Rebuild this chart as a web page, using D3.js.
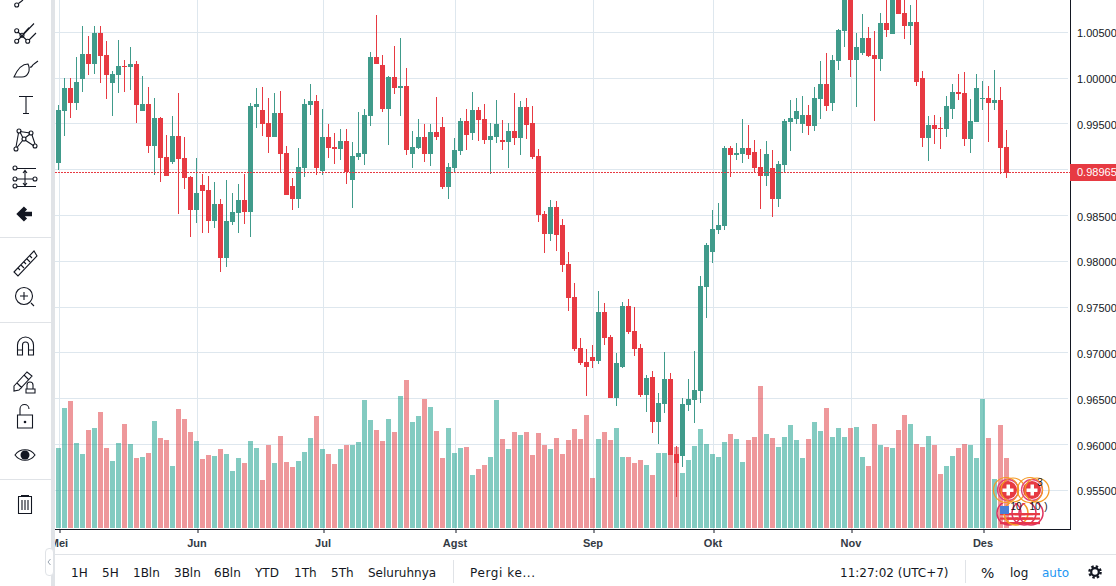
<!DOCTYPE html>
<html>
<head>
<meta charset="utf-8">
<style>
  html, body { margin: 0; padding: 0; background: #fff; overflow: hidden; }
  svg { display: block; }
  text { font-family: "Liberation Sans", Arial, sans-serif; }
</style>
<script src="https://cdn.jsdelivr.net/npm/d3@7"></script>
</head>
<body>
<div id="chart"></div>
<script>
// daily USD/CHF style candles
const opens = [
  0.99078,0.99645,0.99896,0.99733,0.99995,1.00267,1.00158,1.00497,1.00257,0.99951,
  1.00038,1.00136,1.00126,1.00158,0.99645,0.99722,0.99263,0.99569,0.99143,0.99088,
  0.99372,0.99132,0.98925,0.98565,0.98837,0.98783,0.98444,0.98630,0.98040,0.98433,
  0.98532,0.98674,0.98543,0.99689,0.99656,0.99514,0.99361,0.99623,0.99187,0.98826,
  0.98685,0.99023,0.99711,0.99754,0.98990,0.99361,0.99252,0.99230,0.99318,0.98892,
  0.99143,0.99176,0.99591,1.00235,1.00147,0.99667,1.00016,0.99896,0.99918,0.99176,
  0.99241,0.99361,0.99176,0.99416,0.99471,0.98816,0.99023,0.99209,0.99536,0.99405,
  0.99656,0.99558,0.99329,0.99361,0.99329,0.99307,0.99427,0.99350,0.99689,0.99514,
  0.99154,0.98521,0.98302,0.98597,0.98401,0.97975,0.97615,0.97058,0.96905,0.96960,
  0.96916,0.97451,0.97178,0.96512,0.96851,0.97516,0.97244,0.97058,0.96545,0.96741,
  0.96250,0.96447,0.96719,0.95901,0.95879,0.96436,0.96490,0.96588,0.97724,0.98106,
  0.98346,0.98390,0.99241,0.99165,0.99176,0.99241,0.99198,0.99034,0.98936,0.99023,
  0.98685,0.99056,0.99525,0.99558,0.99503,0.99602,0.99481,0.99776,0.99940,0.99733,
  1.00191,1.00519,1.00912,1.00202,1.00278,1.00442,1.00257,1.00213,1.00606,1.00486,
  1.00890,1.00715,1.00573,1.00617,1.00005,0.99350,0.99492,0.99460,0.99449,0.99667,
  0.99853,0.99842,0.99340,0.99525,0.99776,0.99787,0.99733,0.99765,0.99252
];
const highs = [
  0.99711,1.00005,1.00005,1.00235,1.00573,1.00464,1.00573,1.00573,1.00409,1.00082,
  1.00420,1.00202,1.00344,1.00191,1.00027,0.99907,0.99787,0.99580,0.99383,0.99591,
  0.99842,0.99361,0.98936,0.99132,0.98957,0.98936,0.98870,0.98685,0.98892,0.98750,
  0.98848,0.98957,0.99733,0.99896,0.99907,0.99787,0.99842,0.99864,0.99263,0.98914,
  0.99241,0.99776,0.99940,0.99820,0.99667,0.99503,0.99405,0.99449,0.99449,0.99307,
  0.99634,0.99667,1.00289,1.00693,1.00257,1.00027,1.00355,1.00442,1.00115,0.99427,
  0.99558,0.99503,0.99503,0.99798,0.99580,0.99078,0.99350,0.99569,0.99667,0.99853,
  0.99689,0.99722,0.99514,0.99765,0.99547,0.99514,0.99842,0.99754,0.99787,0.99700,
  0.99230,0.98554,0.98674,0.98663,0.98466,0.98106,0.97767,0.97167,0.97047,0.97091,
  0.97680,0.97549,0.97200,0.97003,0.97560,0.97593,0.97505,0.97102,0.96763,0.96807,
  0.96567,0.97014,0.96785,0.95988,0.96512,0.96719,0.97025,0.97844,0.98204,0.98565,
  0.98641,0.99263,0.99263,0.99296,0.99558,0.99492,0.99329,0.99230,0.99318,0.99219,
  0.99099,0.99558,0.99765,0.99787,0.99809,0.99711,0.99907,1.00191,1.00278,1.00257,
  1.00540,1.01075,1.01000,1.00497,1.00704,1.00562,1.00519,1.00715,1.00890,1.01000,
  1.00966,1.00933,1.00802,1.00890,1.00082,0.99591,0.99602,0.99580,0.99809,0.99940,
  1.00049,1.00071,0.99776,1.00049,0.99973,0.99918,1.00093,0.99907,0.99438
];
const lows = [
  0.99001,0.99372,0.99569,0.99656,0.99853,1.00038,1.00049,0.99951,0.99776,0.99591,
  0.99842,0.99853,0.99875,0.99514,0.99645,0.99187,0.98947,0.98870,0.98936,0.99067,
  0.98521,0.98794,0.98270,0.98423,0.98313,0.98313,0.98368,0.97888,0.97942,0.98401,
  0.98313,0.98412,0.98270,0.99460,0.99372,0.99187,0.99361,0.98968,0.98728,0.98565,
  0.98586,0.98925,0.99602,0.98947,0.98947,0.99132,0.99067,0.99110,0.98848,0.98586,
  0.99110,0.99056,0.99481,1.00158,0.99634,0.99274,0.99831,0.99591,0.99165,0.99023,
  0.99230,0.99088,0.99045,0.99329,0.98794,0.98685,0.98979,0.99165,0.99219,0.99329,
  0.99318,0.99285,0.98957,0.99296,0.99219,0.99023,0.99274,0.99165,0.99340,0.99121,
  0.98433,0.98095,0.98226,0.98117,0.97888,0.97462,0.97025,0.96872,0.96534,0.96840,
  0.96883,0.97091,0.96512,0.96425,0.96840,0.97211,0.96970,0.96523,0.96359,0.96130,
  0.96010,0.96348,0.95890,0.95431,0.95759,0.96370,0.96239,0.96457,0.97385,0.97986,
  0.98302,0.98346,0.98925,0.99110,0.99078,0.99121,0.98968,0.98575,0.98826,0.98488,
  0.98597,0.98979,0.99209,0.99503,0.99405,0.99383,0.99427,0.99558,0.99645,0.99645,
  1.00093,1.00344,1.00016,0.99689,1.00257,1.00235,0.99536,1.00082,1.00453,1.00486,
  1.00704,1.00431,1.00366,0.99918,0.99252,0.99099,0.99285,0.99230,0.99361,0.99558,
  0.99765,0.99263,0.99187,0.99525,0.99656,0.99307,0.99656,0.98957,0.98914
];
const closes = [
  0.99656,0.99896,0.99733,0.99962,1.00267,1.00158,1.00497,1.00246,1.00038,1.00049,
  1.00136,1.00126,1.00158,0.99711,0.99722,0.99263,0.99569,0.99132,0.98936,0.99372,
  0.99121,0.98914,0.98565,0.98750,0.98772,0.98444,0.98630,0.98040,0.98444,0.98543,
  0.98674,0.98543,0.99700,0.99722,0.99503,0.99361,0.99623,0.99176,0.98728,0.98685,
  0.99034,0.99722,0.99754,0.99023,0.99361,0.99241,0.99230,0.99318,0.98979,0.99154,
  0.99187,0.99602,1.00235,1.00158,0.99667,1.00016,0.99896,0.99918,0.99219,0.99252,
  0.99361,0.99176,0.99416,0.99361,0.98816,0.99034,0.99219,0.99536,0.99383,0.99656,
  0.99547,0.99329,0.99372,0.99503,0.99307,0.99427,0.99350,0.99689,0.99492,0.99143,
  0.98510,0.98302,0.98597,0.98292,0.97964,0.97604,0.97047,0.96894,0.96851,0.96916,
  0.97451,0.97167,0.96512,0.96894,0.97516,0.97233,0.97047,0.96545,0.96730,0.96250,
  0.96457,0.96719,0.95890,0.95802,0.96447,0.96501,0.96599,0.97735,0.98182,0.98357,
  0.98401,0.99241,0.99165,0.99187,0.99241,0.99165,0.99023,0.98936,0.99176,0.98685,
  0.99067,0.99536,0.99569,0.99645,0.99602,0.99481,0.99787,0.99940,0.99700,1.00202,
  1.00529,1.00966,1.00202,1.00344,1.00442,1.00246,1.00213,1.00606,1.00529,1.00933,
  1.00704,1.00573,1.00617,0.99962,0.99350,0.99492,0.99449,0.99449,0.99700,0.99853,
  0.99831,0.99340,0.99536,0.99896,0.99787,0.99733,0.99765,0.99241,0.98965
];
const volumes = [
  240,360,381,255,222,294,300,348,240,201,255,312,252,210,213,225,321,270,264,186,
  357,327,288,261,207,219,216,237,222,171,210,195,261,240,144,249,195,276,198,183,
  201,228,270,336,237,222,192,237,249,249,258,384,324,294,261,327,288,396,444,318,
  336,387,363,291,210,300,225,240,243,159,177,189,213,384,267,237,288,279,288,219,
  285,249,237,270,222,264,297,267,339,150,267,288,264,300,213,213,195,204,189,159,
  225,225,219,243,165,204,246,297,252,222,213,258,282,267,198,264,273,426,282,270,
  243,273,309,264,210,267,318,291,360,273,300,273,300,303,213,186,312,249,243,240,
  294,339,312,252,243,276,249,162,186,216,240,252,249,210,387,270,147,309,210
];
const priceTicks = [1.005,1,0.995,0.99,0.985,0.98,0.975,0.97,0.965,0.96,0.955];
const monthIndex = [0,23,44,66,89,109,132,154];
const monthLabels = ["Mei","Jun","Jul","Agst","Sep","Okt","Nov","Des"];
const lastPrice = 0.98965;
const rangeButtons = ["1H","5H","1Bln","3Bln","6Bln","YTD","1Th","5Th","Seluruhnya"];
const rangeButtonX = [71,102,133,174,214,255,294,331,368];

const width = 1116, height = 586;
const green = "#409b8b", red = "#e73a42", ink = "#131722", gridColor = "#deE7ee", panelLine = "#e0e3e7";

const svg = d3.select("#chart").append("svg")
  .attr("width", width)
  .attr("height", height);

// Scales
const x = d3.scaleLinear().domain([0, opens.length - 1]).range([58.5, 1006.5]);
const y = d3.scaleLinear().domain([1, 0.955]).range([78.1, 490.3]);
const yVol = d3.scaleLinear().domain([0, 444]).range([528, 380]);

const candles = opens.map((o, i) => ({ i, o, h: highs[i], l: lows[i], c: closes[i], v: volumes[i], up: closes[i] >= o }));

// Grid
svg.append("g").selectAll("line")
  .data(priceTicks)
  .join("line")
  .attr("x1", 55).attr("x2", 1068)
  .attr("y1", d => Math.floor(y(d)) + 0.5)
  .attr("y2", d => Math.floor(y(d)) + 0.5)
  .attr("stroke", gridColor);

svg.append("g").selectAll("line")
  .data(monthIndex)
  .join("line")
  .attr("x1", d => x(d) + 1).attr("x2", d => x(d) + 1)
  .attr("y1", 0).attr("y2", 529)
  .attr("stroke", gridColor);

// Volume
svg.append("g").selectAll("rect")
  .data(candles)
  .join("rect")
  .attr("x", d => x(d.i) - 2.5)
  .attr("width", 5)
  .attr("y", d => Math.round(yVol(d.v)))
  .attr("height", d => 528 - Math.round(yVol(d.v)))
  .attr("fill", d => d.up ? "#1ea08e" : "#de3a3f")
  .attr("fill-opacity", d => d.up ? 0.55 : 0.52);

// Candles
const candle = svg.append("g").selectAll("g")
  .data(candles)
  .join("g")
  .attr("fill", d => d.up ? green : red);

candle.append("rect")
  .attr("x", d => x(d.i) - 0.5)
  .attr("width", 1)
  .attr("y", d => Math.round(y(d.h)))
  .attr("height", d => Math.max(1, Math.round(y(d.l)) - Math.round(y(d.h))));

candle.append("rect")
  .attr("x", d => x(d.i) - 2.5)
  .attr("width", 5)
  .attr("y", d => Math.round(y(Math.max(d.o, d.c))))
  .attr("height", d => Math.max(1, Math.round(y(Math.min(d.o, d.c))) - Math.round(y(Math.max(d.o, d.c)))));

// Current price line
const lastY = Math.floor(y(lastPrice)) + 0.5;
svg.append("line")
  .attr("x1", 55).attr("x2", 1070)
  .attr("y1", lastY).attr("y2", lastY)
  .attr("stroke", red)
  .attr("stroke-dasharray", "2,1");

// Event flags near the last bars
const defs = svg.append("defs");
defs.append("clipPath").attr("id", "flagClip2").append("rect").attr("x", 995).attr("y", 503).attr("width", 60).attr("height", 26);

const flags = svg.append("g");
[[1008, 490], [1032, 490]].forEach(p => {
  flags.append("circle").attr("cx", p[0]).attr("cy", p[1]).attr("r", 9).attr("fill", red);
  flags.append("rect").attr("x", p[0] - 5.5).attr("y", p[1] - 1.5).attr("width", 11).attr("height", 3.5).attr("fill", "#fff");
  flags.append("rect").attr("x", p[0] - 1.5).attr("y", p[1] - 5.5).attr("width", 3.5).attr("height", 11).attr("fill", "#fff");
  flags.append("circle").attr("cx", p[0]).attr("cy", p[1]).attr("r", 10.5).attr("fill", "none").attr("stroke", "#e0457a").attr("stroke-width", 1.3);
  flags.append("circle").attr("cx", p[0] + 5).attr("cy", p[1]).attr("r", 12).attr("fill", "none").attr("stroke", "#f59a23").attr("stroke-width", 1.2);
  flags.append("circle").attr("cx", p[0] - 2).attr("cy", p[1]).attr("r", 12.5).attr("fill", "none").attr("stroke", "#f59a23").attr("stroke-width", 1.2);
});
flags.append("text").attr("x", 1040).attr("y", 486).attr("text-anchor", "middle").attr("font-size", 10).attr("fill", ink).text("3");

const flagRows = flags.append("g").attr("clip-path", "url(#flagClip2)");
[1009, 1016, 1024, 1031].forEach((cx, n) => {
  d3.range(3).forEach(k => {
    flagRows.append("rect").attr("x", cx - 9).attr("y", 513 + k * 4.5).attr("width", 18).attr("height", 2.2).attr("fill", red);
  });
  flagRows.append("circle").attr("cx", cx).attr("cy", 513).attr("r", 12).attr("fill", "none").attr("stroke", n == 1 ? "#f59a23" : "#e0315e").attr("stroke-width", 1.5);
});
flags.append("rect").attr("x", 1000).attr("y", 506).attr("width", 9).attr("height", 8).attr("fill", "#4a7fd6");
flags.append("text").attr("x", 1016).attr("y", 510).attr("text-anchor", "middle").attr("font-size", 10).attr("fill", ink).text("10");
flags.append("text").attr("x", 1035).attr("y", 510).attr("text-anchor", "middle").attr("font-size", 10).attr("fill", ink).text("10");
flags.append("text").attr("x", 1046).attr("y", 510).attr("text-anchor", "middle").attr("font-size", 10).attr("fill", ink).text(")");

// Axes, the 0.99000 label sits under the last price tag so it is left out
const yAxis = d3.axisRight(y).tickValues(priceTicks)
  .tickFormat(d => d === 0.99 ? "" : d3.format(".5f")(d))
  .tickSize(0).tickPadding(6);
const gy = svg.append("g").attr("transform", "translate(1071,1)").call(yAxis);
gy.select(".domain").remove();
gy.selectAll("text").attr("font-size", 11).attr("fill", ink).style("font-family", '"Liberation Sans", Arial, sans-serif');

const xAxis = d3.axisBottom(d3.scaleLinear().domain(x.domain()).range([59.5, 1007.5]))
  .tickValues(monthIndex)
  .tickFormat((d, n) => monthLabels[n])
  .tickSize(4)
  .tickPadding(6);
const gx = svg.append("g").attr("transform", "translate(0,529)").call(xAxis);
gx.select(".domain").remove();
gx.selectAll("line").attr("stroke", ink);
gx.selectAll("text")
  .attr("dx", -1)
  .attr("font-size", 11).attr("font-weight", "bold").attr("fill", "#333a44")
  .style("font-family", '"Liberation Sans", Arial, sans-serif');

svg.append("line").attr("x1", 55).attr("x2", 1071).attr("y1", 529.5).attr("y2", 529.5).attr("stroke", ink);
svg.append("line").attr("x1", 1070.5).attr("x2", 1070.5).attr("y1", 0).attr("y2", 530).attr("stroke", ink);

// Last price tag
svg.append("rect").attr("x", 1070).attr("y", 164).attr("width", 46).attr("height", 17).attr("fill", red);
svg.append("text")
  .attr("x", 1077).attr("y", lastY + 3.8)
  .attr("font-size", 11).attr("fill", "#fff")
  .text(d3.format(".5f")(lastPrice));

// Bottom bar
svg.append("rect").attr("x", 51).attr("y", 554).attr("width", 1065).attr("height", 32).attr("fill", "#fff");
svg.append("line").attr("x1", 51).attr("x2", 1116).attr("y1", 554.5).attr("y2", 554.5).attr("stroke", panelLine);

const barFont = '"DejaVu Sans", sans-serif';
const bar = svg.append("g").attr("font-size", 12).attr("fill", ink).style("font-family", barFont);
bar.selectAll("text.range")
  .data(rangeButtons)
  .join("text")
  .attr("class", "range")
  .attr("x", (d, n) => rangeButtonX[n])
  .attr("y", 577)
  .style("font-family", barFont)
  .text(d => d);
bar.append("text").attr("x", 470).attr("y", 577).style("font-family", barFont).style("letter-spacing", "0.6px").text("Pergi ke...");
bar.append("text").attr("x", 840).attr("y", 577).style("font-family", barFont).text("11:27:02 (UTC+7)");
bar.append("text").attr("x", 981).attr("y", 578).attr("font-size", 14).style("font-family", barFont).text("%");
bar.append("text").attr("x", 1010).attr("y", 577).style("font-family", barFont).text("log");
bar.append("text").attr("x", 1042).attr("y", 577).style("font-family", barFont).attr("fill", "#2196f3").text("auto");
svg.append("line").attr("x1", 453.5).attr("x2", 453.5).attr("y1", 560).attr("y2", 583).attr("stroke", panelLine);
svg.append("line").attr("x1", 965.5).attr("x2", 965.5).attr("y1", 560).attr("y2", 583).attr("stroke", panelLine);

// Settings gear
const gear = svg.append("g").attr("transform", "translate(1095,572)").attr("fill", "none").attr("stroke", ink);
gear.append("circle").attr("r", 3.8).attr("stroke-width", 2.2);
gear.append("circle").attr("r", 5.6).attr("stroke-width", 2.4).attr("stroke-dasharray", "2.4,2");

// Left toolbar
svg.append("rect").attr("x", 0).attr("y", 0).attr("width", 51).attr("height", 586).attr("fill", "#fff");
svg.append("rect").attr("x", 51).attr("y", 0).attr("width", 4).attr("height", 586).attr("fill", panelLine);
[237.5, 322.5, 479.5].forEach(v => {
  svg.append("line").attr("x1", 0).attr("x2", 51).attr("y1", v).attr("y2", v).attr("stroke", panelLine);
});

const icons = svg.append("g").attr("fill", "none").attr("stroke", ink).attr("stroke-width", 1.1);
const dots = [[16.7, 5], [16.7, 30.7], [16.7, 41.3], [27.7, 41.3], [22, 35.3],
  [16, 149], [19, 131], [31, 133], [35, 146], [24, 139],
  [15, 168], [15, 179], [35, 179], [15, 186]];
const iconPaths = [
  "M18.5,3.5L23,0",
  // fork
  "M18,32L26.5,40M18,40L34,23.5M29,40L36,33M23.5,33.5L29,27.5",
  // brush
  "M14,77C18,68 23,64 28,64C31,70 28,77 22,77ZM14,77H24M30,67C32,68 32,65 34,64L38,61",
  // text
  "M19,96.5H33M26,96.5V113.5M23,113.5H29",
  // pattern
  "M16,147L18.5,133M20,131.5L30,133M20,132L23,138M30,134L25,138M25,140L34,146M23,140L17,147.5M32,135L35,144",
  // fib
  "M17,168.5H36M17,179H33M17,186.5H36M25,171V185M23,173L25,170.5L27,173M23,183L25,185.5L27,183",
  // ruler
  "M14,272L34,251L37,256L18,276ZM18,268L20,270M21,265L24,268M24,262L26,264M27,259L30,262M30,256L32,258",
  // zoom
  "M31,303L34,306M20,296H28M24,292V300",
  // magnet
  "M17.5,355V345A8,8 0 0 1 33.5,345V355H28.5V345A3,3 0 0 0 22.5,345V355ZM17.5,350H22.5M28.5,350H33.5",
  // pencil
  "M14,386L27,372L32,376L19,390L14,391ZM17,383L22,388M24,375L29,380M27,389V385A3,3 0 0 1 33,385V389M26,389H35V393H26Z",
  // lock
  "M17.5,415H32.5V428H17.5ZM20,415V409A4.5,4.5 0 0 1 29,409",
  // eye
  "M15,455C20,448 30,448 35,455C30,462 20,462 15,455Z",
  // trash
  "M18,496.5H32M18.5,497V513.5H31.5V497M22,500V510M25,500V510M28,500V510M21,495.5H29"
];
icons.selectAll("path").data(iconPaths).join("path").attr("d", d => d);
icons.append("circle").attr("cx", 24).attr("cy", 296).attr("r", 8.5);
icons.selectAll("circle.dot").data(dots).join("circle")
  .attr("class", "dot")
  .attr("cx", d => d[0]).attr("cy", d => d[1]).attr("r", 2);

svg.append("path").attr("d", "M32,214H21M25.5,208L19.5,214L25.5,220").attr("fill", "none").attr("stroke", ink).attr("stroke-width", 4.5);
svg.append("circle").attr("cx", 25).attr("cy", 455).attr("r", 4.5).attr("fill", ink);
svg.append("circle").attr("cx", 25).attr("cy", 422).attr("r", 1.3).attr("fill", ink);

// Collapse handle
svg.append("rect").attr("x", 45.5).attr("y", 548.5).attr("width", 8).attr("height", 27).attr("rx", 3.5)
  .attr("fill", "#fff").attr("stroke", panelLine);
svg.append("path").attr("d", "M50.5,559L48,562L50.5,565").attr("fill", "none").attr("stroke", "#9aa5b1");
</script>
</body>
</html>
